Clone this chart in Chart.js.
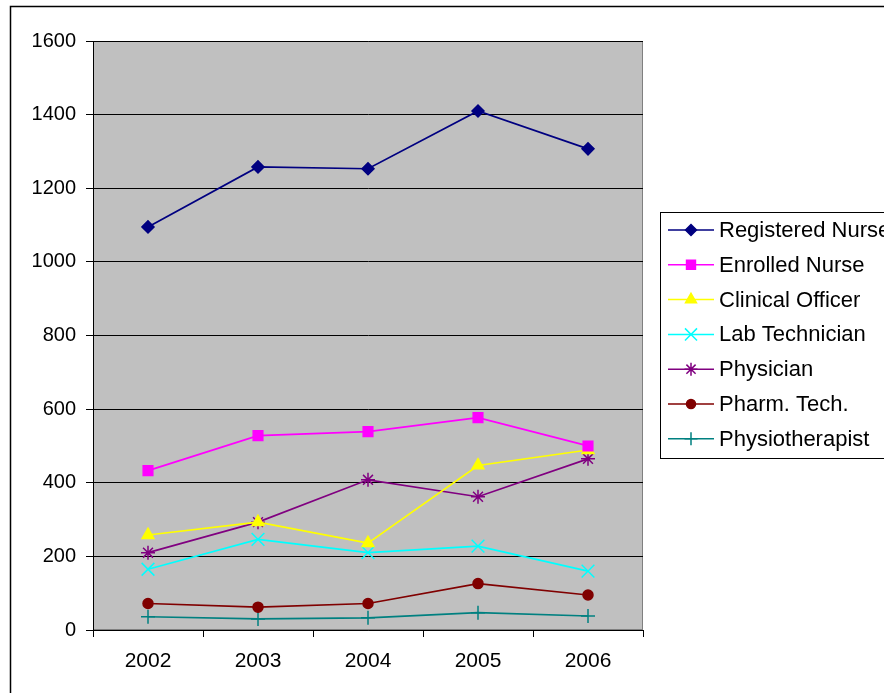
<!DOCTYPE html>
<html>
<head>
<meta charset="utf-8">
<script src="https://cdn.jsdelivr.net/npm/chart.js@4.4.1/dist/chart.umd.min.js"></script>
<style>
 html,body{margin:0;padding:0;background:#fff;}
 #wrap{position:relative;width:884px;height:693px;}
</style>
</head>
<body>
<div id="wrap"><canvas id="myChart" width="884" height="693"></canvas></div>
<script>
const years=['2002','2003','2004','2005','2006'];
const registeredNurse=[1095,1258,1253,1410,1307];
const enrolledNurse=[433,528,539,577,500];
const clinicalOfficer=[258,293,236,447,489];
const labTechnician=[165,246,210,228,160];
const physician=[210,293,408,362,465];
const pharmTech=[72,62,72,126,95];
const physiotherapist=[36,30,33,47,38];
const yTicks=[0,200,400,600,800,1000,1200,1400,1600];

const FONT='"Liberation Sans", Arial, sans-serif';

function series(label,data,color,style,r){
 return {label:label,data:data,borderColor:color,backgroundColor:color,borderWidth:1.7,
  pointStyle:style,pointRadius:r,pointHoverRadius:r,pointBorderWidth:1.5,tension:0};
}

// gray plot area + outer frame
const frame={
 id:'frame',
 beforeDraw(chart){
  const c=chart.ctx,a=chart.chartArea;
  c.save();
  c.fillStyle='#C0C0C0';
  c.fillRect(a.left,a.top,a.right-a.left,a.bottom-a.top);
  c.strokeStyle='#808080';c.lineWidth=1;
  c.strokeRect(a.left+0.5,a.top+0.5,a.right-a.left-1,a.bottom-a.top-1);
  c.strokeStyle='#000';c.lineWidth=1.5;
  c.strokeRect(10.5,6.5,950,750);
  c.restore();
 }
};

// legend box drawn from the datasets
const sideLegend={
 id:'sideLegend',
 afterDraw(chart){
  const c=chart.ctx;
  c.save();
  c.strokeStyle='#000';c.lineWidth=1;
  c.strokeRect(660.5,212.5,300,246);
  c.font='22px '+FONT;c.textBaseline='middle';c.fillStyle='#000';
  chart.data.datasets.forEach((ds,i)=>{
   const y=230+i*34.8;
   c.strokeStyle=ds.borderColor;c.lineWidth=1.5;
   c.beginPath();c.moveTo(668,y);c.lineTo(714,y);c.stroke();
   c.fillStyle=ds.backgroundColor;c.lineWidth=1.5;
   Chart.helpers.drawPoint(c,{pointStyle:ds.pointStyle,radius:ds.pointRadius-0.5,rotation:0,borderWidth:1.5},691,y);
   c.fillStyle='#000';
   c.fillText(ds.label,719,y+1);
  });
  c.restore();
 }
};

const ctx=document.getElementById('myChart');
new Chart(ctx,{
 type:'line',
 data:{
  labels:years,
  datasets:[
   series('Registered Nurse',registeredNurse,'#000080','rectRot',6),
   series('Enrolled Nurse',enrolledNurse,'#FF00FF','rect',6.8),
   series('Clinical Officer',clinicalOfficer,'#FFFF00','triangle',6.8),
   series('Lab Technician',labTechnician,'#00FFFF','crossRot',9),
   series('Physician',physician,'#800080','star',7),
   series('Pharm. Tech.',pharmTech,'#800000','circle',5),
   series('Physiotherapist',physiotherapist,'#008080','cross',7)
  ]
 },
 options:{
  responsive:false,
  animation:false,
  events:[],
  layout:{padding:{left:0,right:241,top:41,bottom:0}},
  plugins:{legend:{display:false},tooltip:{enabled:false}},
  scales:{
   x:{
    offset:true,
    afterFit(s){s.height=63;},
    grid:{offset:true,drawOnChartArea:false,drawTicks:true,tickLength:7,color:'#000'},
    border:{color:'#000',width:1},
    ticks:{color:'#000',font:{family:FONT,size:21},padding:12,maxRotation:0}
   },
   y:{
    min:0,max:1600,
    afterFit(s){s.width=93;},
    afterBuildTicks(s){s.ticks=yTicks.map(v=>({value:v}));},
    grid:{color:'#000',lineWidth:1,drawTicks:true,tickLength:7},
    border:{color:'#000',width:1},
    ticks:{color:'#000',font:{family:FONT,size:20},padding:10,callback:v=>String(v)}
   }
  }
 },
 plugins:[frame,sideLegend]
});
</script>
</body>
</html>
